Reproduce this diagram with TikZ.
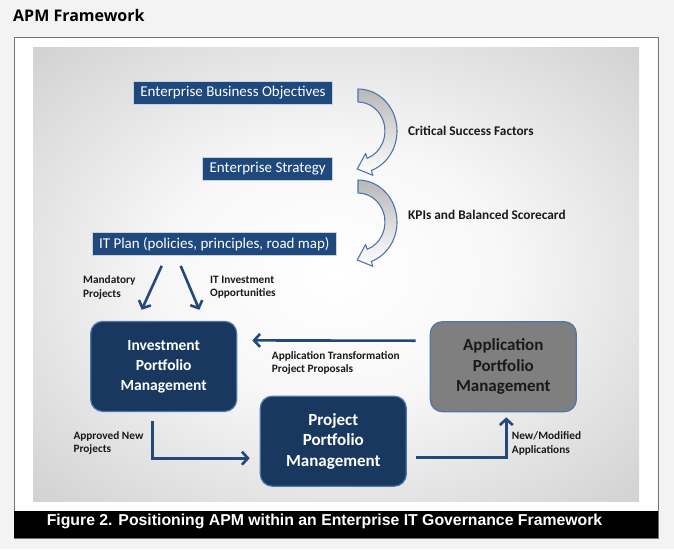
\documentclass[tikz,border=0pt]{standalone}
\usepackage{fontspec}
\setmainfont{Carlito}
\newfontfamily\headfont{Open Sans}
\newfontfamily\capfont{Liberation Sans}
\usetikzlibrary{arrows.meta, calc}
\definecolor{navy}{RGB}{24,56,96}
\definecolor{planblue}{RGB}{31,73,125}
\definecolor{edgeblue}{RGB}{79,118,170}
\definecolor{flowblue}{RGB}{36,72,122}
\definecolor{appgray}{RGB}{127,127,127}
\definecolor{pagegray}{RGB}{243,243,243}
\pgfdeclareradialshading{glow}{\pgfpoint{0bp}{0bp}}{color(0bp)=(white); color(14bp)=(white!97!black); color(50bp)=(black!28); color(72bp)=(black!38)}
\tikzset{
    goalbox/.style={fill=planblue, draw=white!75!planblue, line width=0.8pt, text=white, font=\fontsize{15}{17}\selectfont, inner xsep=7pt, inner ysep=0pt, minimum height=23pt},
    pmbox/.style={rounded corners=12pt, draw=edgeblue, line width=1.2pt, minimum width=146pt, minimum height=90pt, align=center, font=\bfseries\fontsize{15.5}{20}\selectfont},
    bigtext/.style={font=\bfseries\fontsize{17}{20.3}\selectfont},
    flow/.style={draw=flowblue, line width=2.6pt, -{Straight Barb[length=6pt,width=13pt]}},
    note/.style={font=\bfseries\fontsize{11.3}{13.5}\selectfont, text=black!90, align=left, anchor=west, inner sep=0pt},
    curlarrow/.style={draw=edgeblue, line width=1.1pt, top color=black!28, bottom color=white, line join=round}
}

\begin{document}
\begin{tikzpicture}[x=1pt, y=-1pt]
    % page and frame
    \fill[pagegray] (0,0) rectangle (674,549);
    \useasboundingbox (0,0) rectangle (674,549);
    \node[anchor=west, inner sep=0pt, font=\headfont\bfseries\fontsize{16}{19}\selectfont] (title) at (13,15) {APM Framework};
    \draw[draw=black!55, fill=white, line width=1pt] (14,37) rectangle (658,538);
    \shade[shading=glow] (33,47) rectangle (639,501);
    \fill[black] (14,511) rectangle (658,538);
    \node[text=white, font=\capfont\bfseries\fontsize{15.8}{18}\selectfont] (caption) at (324.5,521.5) {Figure 2. Positioning APM within an Enterprise IT Governance Framework};

    % planning chain
    \node[goalbox, anchor=east] (ebo) at (333,92.5) {Enterprise Business Objectives};
    \node[goalbox, anchor=east] (strategy) at (333,168.5) {Enterprise Strategy};
    \node[goalbox, anchor=east] (itplan) at (337,244) {IT Plan (policies, principles, road map)};
    \foreach \dy in {0,91}{
        \path[curlarrow, shift={(358,131+\dy)}] (0,-42) arc[start angle=-90, end angle=70, x radius=39, y radius=42]
            -- (14.9,44.3) -- (-0.8,38) -- (7.6,22.5) -- (9.2,27.3)
            arc[start angle=70, end angle=-90, x radius=27, y radius=29] -- cycle;
    }
    \node[note, font=\bfseries\fontsize{13.3}{16}\selectfont] (csf) at (408,130.7) {Critical Success Factors};
    \node[note, font=\bfseries\fontsize{13.3}{16}\selectfont] (kpi) at (408,215) {KPIs and Balanced Scorecard};

    % portfolio boxes
    \node[pmbox, fill=navy, text=white] (ipm) at (163.7,366.4) {Investment\\Portfolio\\Management};
    \node[pmbox, bigtext, fill=appgray, text=black!90] (apm) at (503.3,366.7) {Application\\Portfolio\\Management};
    \node[pmbox, bigtext, fill=navy, text=white] (ppm) at (333.3,441.2) {Project\\Portfolio\\Management};

    % flows
    \draw[flow] ($(ipm.north |- itplan.south)+(-2,10)$) -- ($(ipm.north)+(-22,-11)$);
    \draw[flow] ($(ipm.north |- itplan.south)+(17,10)$) -- ($(ipm.north)+(35.6,-11)$);
    \node[note] (mand) at (83,287.3) {Mandatory\\Projects};
    \node[note] (opps) at (210,287.3) {IT Investment\\Opportunities};
    \draw[flow] ([xshift=-14pt,yshift=26pt]apm.west) -- ([xshift=15pt,yshift=26pt]ipm.east);
    \node[note] (atpp) at (271.7,362.8) {Application Transformation\\Project Proposals};
    \draw[flow] ([xshift=-11pt,yshift=-9pt]ipm.south) |- ([xshift=-10pt,yshift=-17pt]ppm.west);
    \node[note] (anp) at (73.3,443) {Approved New\\Projects};
    \draw[flow] ([xshift=9pt,yshift=-16.5pt]ppm.east) -| ([xshift=3pt,yshift=-5pt]apm.south);
    \node[note] (nma) at (511.7,443.3) {New/Modified\\Applications};
\end{tikzpicture}
\end{document}
